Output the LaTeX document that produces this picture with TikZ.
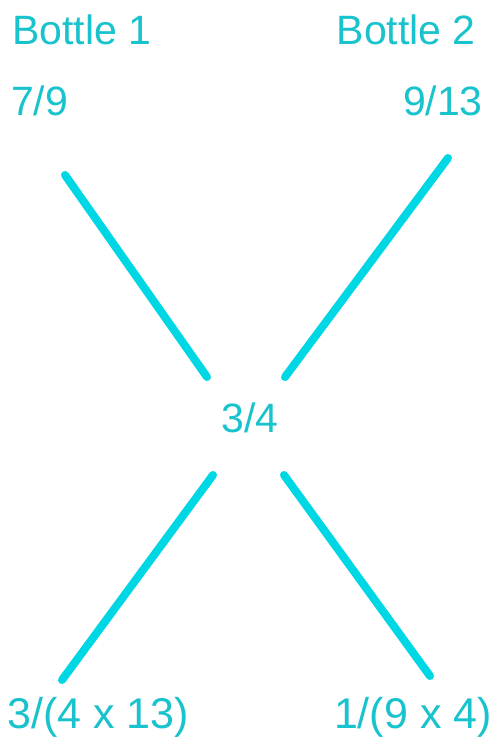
\documentclass[tikz,border=0pt]{standalone}
\usepackage{fontspec}
\setmainfont{Liberation Sans}
\definecolor{txtc}{RGB}{25,195,205}
\definecolor{linec}{RGB}{0,215,228}
\begin{document}
\begin{tikzpicture}[x=1pt,y=-1pt,
  lbl/.style={text=txtc,inner sep=0pt,font=\fontsize{41}{48}\selectfont},
  bar/.style={draw=linec,line width=8pt,line cap=round}]
\useasboundingbox[fill=white] (0,0) rectangle (492,740);
\node[lbl,anchor=base west] (b1) at (12,44) {Bottle 1};
\node[lbl,anchor=base east] (b2) at (476,44) {Bottle 2};
\node[lbl,anchor=base west] (f1) at (11,115) {7/9};
\node[lbl,anchor=base east] (f2) at (483,115) {9/13};
\node[lbl,anchor=base] (c) at (250,432) {3/4};
\node[lbl,anchor=base west,font=\fontsize{43}{50}\selectfont] (r1) at (7,728) {3/(4 x 13)};
\node[lbl,anchor=base east,font=\fontsize{43}{50}\selectfont] (r2) at (492,728) {1/(9 x 4)};
\coordinate (a1) at (65,175); \coordinate (a2) at (207,377);
\coordinate (b1s) at (448,158); \coordinate (b2s) at (285,377);
\coordinate (c1) at (213,475); \coordinate (c2) at (62,680);
\coordinate (d1) at (284,475); \coordinate (d2) at (430,676);
\draw[bar] (a1) -- (a2);
\draw[bar] (b1s) -- (b2s);
\draw[bar] (c1) -- (c2);
\draw[bar] (d1) -- (d2);
\end{tikzpicture}
\end{document}
